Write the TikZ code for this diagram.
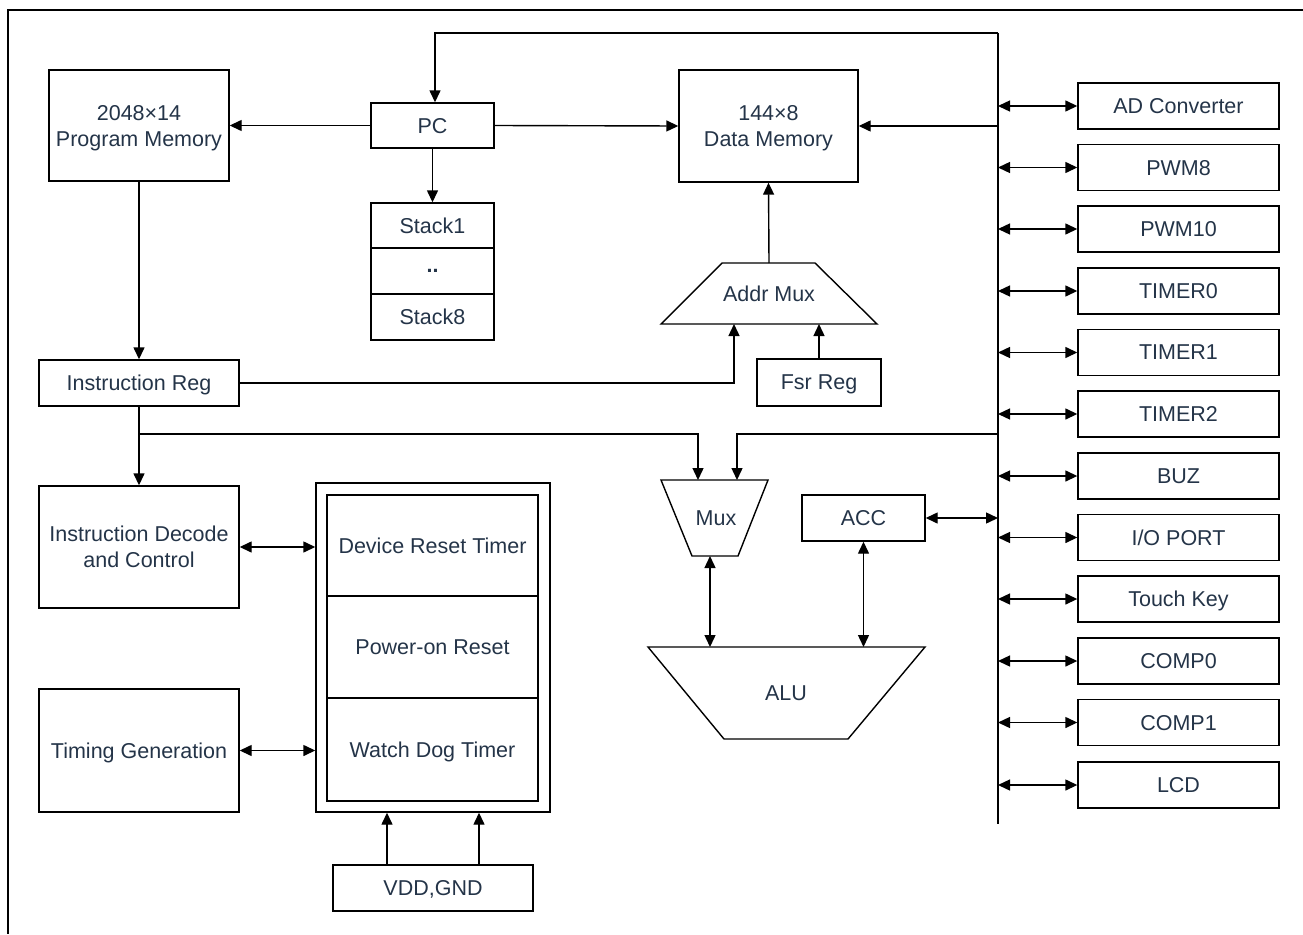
\documentclass[tikz,border=0pt]{standalone}
\usepackage{fontspec}
\setmainfont{Liberation Sans}
\usetikzlibrary{arrows.meta}
\definecolor{txt}{RGB}{36,52,72}
\begin{document}
\begin{tikzpicture}[x=1pt,y=-1pt,
 font=\fontsize{21.5}{26}\selectfont,
 box/.style={draw, line width=1.4pt, text=txt, inner sep=0pt, align=center, text depth=0pt},
 lbl/.style={text=txt, inner sep=0pt, align=center, text depth=0pt},
 conn/.style={line width=1.4pt},
 arr/.style={conn, -{Triangle[length=12pt,width=11pt]}},
 darr/.style={conn, {Triangle[length=12pt,width=11pt]}-{Triangle[length=12pt,width=11pt]}},
 shp/.style={draw, line width=1.4pt, line join=miter}
]
\useasboundingbox (0,0) rectangle (1303,934);
% partial outer frame
\draw[line width=1.4pt] (1303,10) -- (8,10) -- (8,934);

% boxes
\node[box, minimum width=180, minimum height=111] (pm) at (139,125.5) {2048×14\\Program Memory};
\node[box, minimum width=123, minimum height=45] (pc) at (432.5,125.5) {PC};
\node[box, minimum width=123, minimum height=45] (st1) at (432.5,225.5) {Stack1};
\node[box, minimum width=123, minimum height=46] (std) at (432.5,271) {\bfseries ..};
\node[box, minimum width=123, minimum height=46] (st8) at (432.5,317) {Stack8};
\node[box, minimum width=179, minimum height=112] (dm) at (768.5,126) {144×8\\Data Memory};
\node[box, minimum width=124, minimum height=47] (fsr) at (819,382.5) {Fsr Reg};
\node[box, minimum width=200, minimum height=46] (ir) at (139,383) {Instruction Reg};
\node[box, minimum width=200, minimum height=122] (id) at (139,547) {Instruction Decode\\and Control};
\node[box, minimum width=200, minimum height=123] (tg) at (139,750.5) {Timing Generation};
\node[box, minimum width=234, minimum height=329] (rst) at (433,647.5) {};
\node[box, minimum width=211, minimum height=101] (drt) at (432.5,545.5) {Device Reset Timer};
\node[box, minimum width=211, minimum height=102] (por) at (432.5,647) {Power-on Reset};
\node[box, minimum width=211, minimum height=103] (wdt) at (432.5,749.5) {Watch Dog Timer};
\node[box, minimum width=200, minimum height=46] (vdd) at (433,888) {VDD,GND};
\node[box, minimum width=123, minimum height=46] (acc) at (863.5,518) {ACC};

% trapezoids
\draw[shp] (722,263) -- (815,263) -- (877,324) -- (661,324) -- cycle;
\node[lbl] (amux) at (769,294) {Addr Mux};
\draw[shp] (661,480) -- (768,480) -- (738,556) -- (692,556) -- cycle;
\node[lbl] (mux) at (716,518) {Mux};
\draw[shp] (648,647) -- (925,647) -- (848,739) -- (724,739) -- cycle;
\node[lbl] (alu) at (786,693) {ALU};

% bus
\coordinate (bustop) at (998,33);
\coordinate (busbot) at (998,824);
\draw[conn] (bustop) -- (busbot);

% peripherals
\foreach \n/\t/\y in {p1/AD Converter/106, p2/PWM8/167.5, p3/PWM10/229, p4/TIMER0/291, p5/TIMER1/352.5, p6/TIMER2/414, p7/BUZ/476, p8/I\slash O PORT/537.5, p9/Touch Key/599, p10/COMP0/661, p11/COMP1/722.5, p12/LCD/785}{
  \node[box, minimum width=201, minimum height=46] (\n) at (1178.5,\y) {\t};
  \coordinate (b\n) at (998,\y);
  \draw[darr] (b\n) -- (\n.west);
}

% connectors
\coordinate (fbk) at (435,33);
\draw[arr] (bustop) -- (fbk) -- (fbk |- pc.north);
\draw[arr] (pc.west) -- (pm.east);
\draw[arr] (pc.east) -- (dm.west);
\draw[arr] (pc.south) -- (st1.north);
\coordinate (bdm) at (998,126);
\draw[arr] (bdm) -- (dm.east);
\coordinate (amtop) at (769,263);
\draw[arr] (amtop) -- (dm.south);
\coordinate (amin1) at (734,324);
\draw[arr] (ir.east) -| (amin1);
\coordinate (amin2) at (819,324);
\draw[arr] (fsr.north) -- (amin2);
\draw[arr] (pm.south) -- (ir.north);
\draw[arr] (ir.south) -- (id.north);
\coordinate (br) at (139,434);
\coordinate (mxin1) at (698,480);
\draw[arr] (br) -| (mxin1);
\coordinate (bmx) at (998,434);
\coordinate (mxin2) at (737,480);
\draw[arr] (bmx) -| (mxin2);
\coordinate (mxo) at (710,556);
\coordinate (alui) at (710,647);
\draw[darr] (mxo) -- (alui);
\coordinate (alui2) at (863.5,647);
\draw[darr] (acc.south) -- (alui2);
\coordinate (bacc) at (998,518);
\draw[darr] (acc.east) -- (bacc);
\draw[darr] (id.east) -- (id.east -| rst.west);
\draw[darr] (tg.east) -- (tg.east -| rst.west);
\coordinate (v1) at (387,865);
\coordinate (v2) at (479,865);
\draw[arr] (v1) -- (v1 |- rst.south);
\draw[arr] (v2) -- (v2 |- rst.south);
\end{tikzpicture}
\end{document}
